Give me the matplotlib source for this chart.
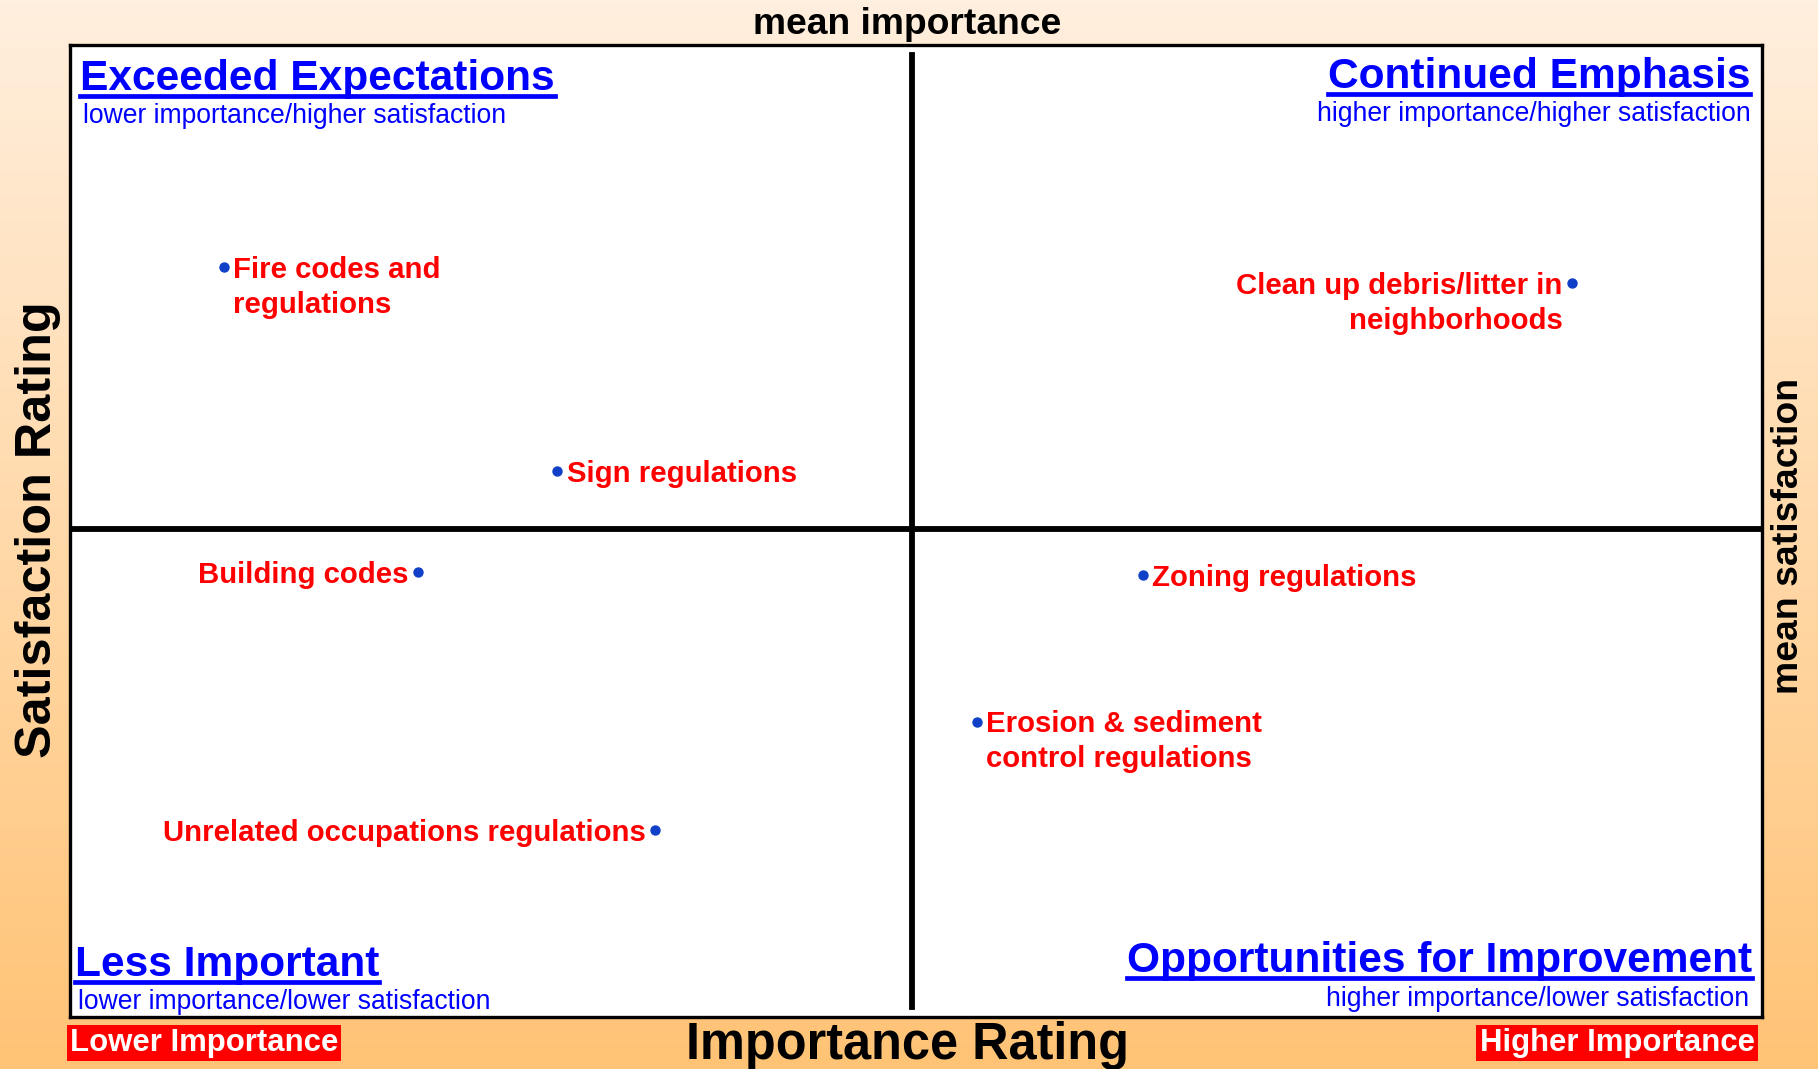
import numpy as np
import matplotlib
matplotlib.use("Agg")
import matplotlib.pyplot as plt
from matplotlib.lines import Line2D

# ---------------- data ----------------
items = ["Fire codes and\nregulations", "Sign regulations", "Building codes",
         "Unrelated occupations regulations", "Clean up debris/litter in\nneighborhoods",
         "Zoning regulations", "Erosion & sediment\ncontrol regulations"]
importance = [9.1, 28.8, 20.6, 34.6, 88.8, 63.4, 53.6]
satisfaction = [77.2, 56.2, 45.8, 19.2, 75.5, 45.5, 30.4]
label_side = ["right", "right", "left", "left", "left", "right", "right"]
mean_importance = 49.8
mean_satisfaction = 50.2

quadrant_titles = ["Exceeded Expectations", "Continued Emphasis",
                   "Less Important", "Opportunities for Improvement"]
quadrant_subtitles = ["lower importance/higher satisfaction",
                      "higher importance/higher satisfaction",
                      "lower importance/lower satisfaction",
                      "higher importance/lower satisfaction"]

W, H = 1818, 1069
fig = plt.figure(figsize=(W / 100, H / 100), dpi=100)
plt.rcParams['font.family'] = ['Liberation Sans', 'DejaVu Sans']

def fp(x, y):
    return (x / W, 1 - y / H)

# background gradient
bg = fig.add_axes([0, 0, 1, 1], zorder=-10)
top = np.array([255, 239, 222]) / 255
bot = np.array([255, 195, 117]) / 255
t = np.linspace(0, 1, 256)[:, None]
grad = top[None, :] * (1 - t) + bot[None, :] * t
bg.imshow(grad[:, None, :], aspect="auto", extent=[0, 1, 0, 1])
bg.axis("off")

# main axes
L, R, T, B = 69.5, 1762, 45, 1017
ax = fig.add_axes([L / W, 1 - B / H, (R - L) / W, (B - T) / H])
ax.set_xlim(0, 100)
ax.set_ylim(0, 100)
ax.set_xticks([])
ax.set_yticks([])
for s in ax.spines.values():
    s.set_linewidth(2.4)
    s.set_color("black")

ax.axvline(mean_importance, ymin=0.01, ymax=0.99, color="black", lw=4.2)
ax.axhline(mean_satisfaction, xmin=0.001, xmax=0.999, color="black", lw=4.2)

ax.scatter(importance, satisfaction, s=42, color="#1040C8", zorder=5)
for name, x, y, side in zip(items, importance, satisfaction, label_side):
    multi = "\n" in name
    if side == "right":
        dx, ha = 7, "left"
    else:
        dx, ha = -7, "right"
    if multi:
        ax.annotate(name, (x, y), xytext=(dx, 8), textcoords="offset points",
                    ha=ha, va="top", color="red", fontsize=21.2, fontweight="bold",
                    linespacing=1.32, multialignment=ha)
    else:
        ax.annotate(name, (x, y), xytext=(dx, 0), textcoords="offset points",
                    ha=ha, va="center_baseline", color="red", fontsize=21.2,
                    fontweight="bold")

# quadrant titles
title_specs = [
    (80, 90, "left", 83, 123),
    (1750, 88, "right", 1751, 121),
    (75, 976, "left", 78, 1009),
    (1752, 972, "right", 1749, 1006),
]
fig.canvas.draw()
renderer = fig.canvas.get_renderer()
for (tx, ty, ha, sx, sy), title, sub in zip(title_specs, quadrant_titles, quadrant_subtitles):
    txt = fig.text(*fp(tx, ty), title, ha=ha, va="baseline", color="#0000FF",
                   fontsize=30.6, fontweight="bold")
    fig.text(*fp(sx, sy), sub, ha=ha, va="baseline", color="#0000FF", fontsize=19.1)
    bb = txt.get_window_extent(renderer=renderer)
    yline = ty + 6
    fig.add_artist(Line2D([bb.x0 / W, bb.x1 / W], [1 - yline / H, 1 - yline / H],
                          color="#0000FF", lw=3.4, transform=fig.transFigure))

# axis labels
fig.text(*fp(907, 24.5), "mean importance", ha="center", va="center",
         fontsize=26.8, fontweight="bold")
fig.text(*fp(907, 1046), "Importance Rating", ha="center", va="center",
         fontsize=36.4, fontweight="bold")
fig.text(*fp(38, 530), "Satisfaction Rating", ha="center", va="center",
         rotation=90, fontsize=36.3, fontweight="bold")
fig.text(*fp(1788, 536), "mean satisfaction", ha="center", va="center",
         rotation=90, fontsize=26.9, fontweight="bold")

# corner boxes
fig.text(*fp(204, 1043), "Lower Importance", ha="center", va="center",
         fontsize=22.4, fontweight="bold", color="white",
         bbox=dict(boxstyle="square,pad=0.1", fc="#FF0000", ec="none"))
fig.text(*fp(1617, 1043), "Higher Importance", ha="center", va="center",
         fontsize=22.4, fontweight="bold", color="white",
         bbox=dict(boxstyle="square,pad=0.1", fc="#FF0000", ec="none"))

fig.savefig("out.png", dpi=100)
